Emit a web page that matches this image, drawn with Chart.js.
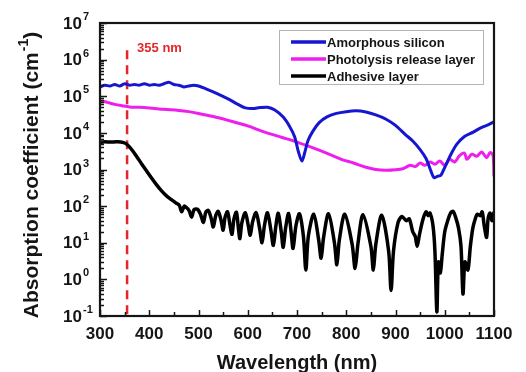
<!DOCTYPE html>
<html>
<head>
<meta charset="utf-8">
<script src="https://cdn.jsdelivr.net/npm/chart.js@4.4.1/dist/chart.umd.min.js"></script>
<style>
  html, body { margin: 0; padding: 0; background: #fff; }
  #wrap { width: 526px; height: 372px; }
</style>
</head>
<body>
<div id="wrap"><canvas id="main-chart" width="526" height="372"></canvas></div>
<script>
// wavelengths (nm) and absorption coefficients (cm^-1)
const siliconX = [300,310,320,330,340,350,360,370,380,390,400,410,420,430,440,450,460,470,480,490,500,520,540,560,580,595,610,625,640,655,672,685,695,703,710,716,722,732,745,760,780,800,820,840,860,880,900,920,935,950,962,972,978,985,992,998,1005,1015,1025,1040,1058,1070,1080,1090,1100];
const siliconY = [1.8e5,2.0e5,1.9e5,2.1e5,1.9e5,2.2e5,2.0e5,2.1e5,2.0e5,2.2e5,2.0e5,2.1e5,2.0e5,2.2e5,2.4e5,2.1e5,2.0e5,1.8e5,1.9e5,2.0e5,1.9e5,1.5e5,1.15e5,8.5e4,6e4,4.8e4,4.6e4,4.9e4,5.0e4,4.2e4,2.7e4,1.5e4,8e3,3e3,1.7e3,3e3,6e3,1.1e4,1.9e4,2.7e4,3.4e4,3.8e4,4e4,3.7e4,3.1e4,2.4e4,1.6e4,9e3,6e3,3.5e3,2e3,9e2,6e2,6.5e2,7e2,1e3,1.6e3,3e3,5e3,8e3,1.05e4,1.3e4,1.5e4,1.7e4,2e4];

const releaseX = [300,305,315,330,345,360,380,400,430,460,480,500,530,560,600,630,670,700,730,760,790,815,840,860,880,900,915,930,940,950,960,970,980,990,1000,1010,1020,1030,1040,1045,1055,1065,1075,1085,1092,1098,1100];
const releaseY = [7e4,7.3e4,6.8e4,6e4,5.5e4,5.1e4,5e4,4.8e4,4.4e4,4.1e4,3.8e4,3.4e4,2.8e4,2.2e4,1.55e4,1.1e4,7.5e3,5.6e3,4e3,2.8e3,1.9e3,1.5e3,1.15e3,1e3,9.5e2,9.8e2,1.05e3,1.3e3,1.2e3,1.5e3,1.3e3,1.6e3,1.4e3,1.7e3,1.3e3,1.9e3,1.6e3,2.4e3,2.8e3,1.9e3,2.6e3,2.3e3,3e3,2.1e3,2.9e3,2.4e3,6.5e2];

const adhesiveX = [300,310,320,335,348,355,365,375,385,395,405,415,425,435,445,455,461,466,471,476,481,486,491,498,504,510,515,520,526,530,535,540,546,550,554,559,564,568,572,577,581,584,588,595,601,605,610,617,624,629,634,640,647,652,657,662,668,672,677,683,688,692,698,705,713,718,723,734,744,749,754,764,776,781,786,797,812,818,824,834,850,855,860,872,886,891,896,905,913,922,928,935,940,944,948,955,962,966,970,976,980,984,987,991,995,1000,1006,1012,1017,1022,1028,1033,1037,1041,1047,1052,1057,1062,1066,1072,1076,1080,1085,1088,1092,1096,1100];
const adhesiveY = [5.5e3,5.7e3,5.6e3,5.7e3,5.4e3,4.8e3,3.4e3,2.2e3,1.4e3,9e2,5.8e2,3.8e2,2.6e2,1.9e2,1.5e2,1.2e2,1.05e2,70,100,90,75,50,80,82,60,36,70,76,45,27,55,72,40,22,50,70,30,17,45,68,25,13,35,66,30,16,38,66,25,10,30,66,22,8.5,28,64,20,7.5,26,63,20,7,30,62,15,1.8,15,60,12,3.8,14,62,10,2.5,12,60,9,2,10,58,8,1.8,9,56,6,0.5,6,35,52,40,45,20,15,8,15,40,70,55,65,30,6,0.13,3,1.5,5,20,40,65,72,50,25,8,0.4,3,1.8,8,25,45,60,55,70,30,14,45,65,40,70];

const markerX = [355, 355];
const markerY = [1.8e6, 0.1];

const seriesLabels = ['Amorphous silicon', 'Photolysis release layer', 'Adhesive layer'];
const seriesColors = ['#1616d2', '#ee1eee', '#000000'];
const yExponents = [-1, 0, 1, 2, 3, 4, 5, 6, 7];

const toPoints = (xs, ys) => xs.map((v, i) => ({ x: v, y: ys[i] }));

const FONT = 'Arial, "Liberation Sans", sans-serif';
const INK = '#151515';

const decorations = {
  id: 'decorations',
  afterDatasetsDraw(chart) {
    const { ctx, chartArea: a, scales: { x, y } } = chart;
    ctx.save();
    ctx.strokeStyle = INK;
    ctx.lineWidth = 1.5;
    // inward ticks on bottom axis
    for (let v = 300; v <= 1100; v += 50) {
      const px = Math.round(x.getPixelForValue(v)) + 0.5;
      const len = v % 100 === 0 ? 6 : 4;
      ctx.beginPath(); ctx.moveTo(px, a.bottom); ctx.lineTo(px, a.bottom - len); ctx.stroke();
    }
    // inward ticks on left axis (decades + minors)
    for (let e = -1; e <= 7; e++) {
      for (let m = 1; m <= 9; m++) {
        if (e === 7 && m > 1) break;
        const py = Math.round(y.getPixelForValue(m * Math.pow(10, e))) + 0.5;
        const len = m === 1 ? 7 : 4;
        ctx.beginPath(); ctx.moveTo(a.left, py); ctx.lineTo(a.left + len, py); ctx.stroke();
      }
    }
    // frame
    ctx.lineWidth = 2.2;
    ctx.strokeRect(a.left, a.top, a.right - a.left, a.bottom - a.top);

    // 355 nm label
    ctx.fillStyle = '#e3262b';
    ctx.font = 'bold 13px ' + FONT;
    ctx.textBaseline = 'middle';
    ctx.textAlign = 'left';
    ctx.fillText('355 nm', x.getPixelForValue(355) + 10, 48);

    // legend box
    const lx = 279, ly = 30, lw = 204, lh = 54;
    ctx.fillStyle = '#fff';
    ctx.fillRect(lx, ly, lw, lh);
    ctx.strokeStyle = '#b4b4b4';
    ctx.lineWidth = 1;
    ctx.strokeRect(lx + 0.5, ly + 0.5, lw, lh);
    ctx.font = 'bold 13px ' + FONT;
    seriesLabels.forEach((lab, i) => {
      const cy = 42 + i * 17;
      ctx.strokeStyle = seriesColors[i];
      ctx.lineWidth = 3.5;
      ctx.beginPath(); ctx.moveTo(291, cy); ctx.lineTo(326, cy); ctx.stroke();
      ctx.fillStyle = INK;
      ctx.fillText(lab, 327, cy + 1);
    });
    ctx.restore();
  },
  afterDraw(chart) {
    const { ctx, chartArea: a, scales: { y } } = chart;
    ctx.save();
    ctx.fillStyle = INK;
    // y tick labels 10^n
    yExponents.forEach(e => {
      const py = y.getPixelForValue(Math.pow(10, e));
      ctx.font = 'bold 17px ' + FONT;
      ctx.textAlign = 'right';
      ctx.textBaseline = 'middle';
      ctx.fillText('10', 82, py + 1);
      ctx.font = 'bold 11px ' + FONT;
      ctx.textAlign = 'left';
      ctx.textBaseline = 'alphabetic';
      ctx.fillText(String(e), 83, py - 3);
    });
    // y axis title with superscript
    ctx.translate(38, (a.top + a.bottom) / 2 + 6);
    ctx.rotate(-Math.PI / 2);
    const main = 'Absorption coefficient (cm';
    ctx.font = 'bold 21px ' + FONT;
    const w1 = ctx.measureText(main).width;
    ctx.font = 'bold 14px ' + FONT;
    const w2 = ctx.measureText('-1').width;
    ctx.font = 'bold 21px ' + FONT;
    const w3 = ctx.measureText(')').width;
    let sx = -(w1 + w2 + w3) / 2;
    ctx.textAlign = 'left';
    ctx.textBaseline = 'alphabetic';
    ctx.fillText(main, sx, 0);
    sx += w1;
    ctx.font = 'bold 14px ' + FONT;
    ctx.fillText('-1', sx + 1, -10);
    sx += w2 + 1;
    ctx.font = 'bold 21px ' + FONT;
    ctx.fillText(')', sx, 0);
    ctx.restore();
  }
};

new Chart(document.getElementById('main-chart').getContext('2d'), {
  type: 'line',
  data: {
    datasets: [
      { label: 'marker', data: toPoints(markerX, markerY), borderColor: '#e3262b', borderWidth: 2.5, borderDash: [9, 6], pointRadius: 0, order: 4 },
      { label: seriesLabels[2], data: toPoints(adhesiveX, adhesiveY), borderColor: seriesColors[2], borderWidth: 3.5, pointRadius: 0, tension: 0.3, order: 3 },
      { label: seriesLabels[1], data: toPoints(releaseX, releaseY), borderColor: seriesColors[1], borderWidth: 3, pointRadius: 0, tension: 0.3, order: 2 },
      { label: seriesLabels[0], data: toPoints(siliconX, siliconY), borderColor: seriesColors[0], borderWidth: 3, pointRadius: 0, tension: 0.3, order: 1 }
    ]
  },
  options: {
    responsive: false,
    animation: false,
    layout: { padding: { left: 0, right: 32, top: 23, bottom: 0 } },
    plugins: { legend: { display: false }, tooltip: { enabled: false } },
    scales: {
      x: {
        type: 'linear',
        min: 300,
        max: 1100,
        grid: { display: false },
        border: { display: false },
        ticks: { stepSize: 100, padding: 0, color: INK, font: { family: FONT, size: 17, weight: 'bold' }, callback: v => String(v) },
        title: { display: true, text: 'Wavelength (nm)', color: INK, padding: { top: 0, bottom: 0 }, font: { family: FONT, size: 20, weight: 'bold', lineHeight: 0.9 } },
        afterFit: s => { s.height = 56; }
      },
      y: {
        type: 'logarithmic',
        min: 0.1,
        max: 1e7,
        grid: { display: false },
        border: { display: false },
        ticks: { display: false },
        afterFit: s => { s.width = 100; }
      }
    }
  },
  plugins: [decorations]
});
</script>
</body>
</html>
